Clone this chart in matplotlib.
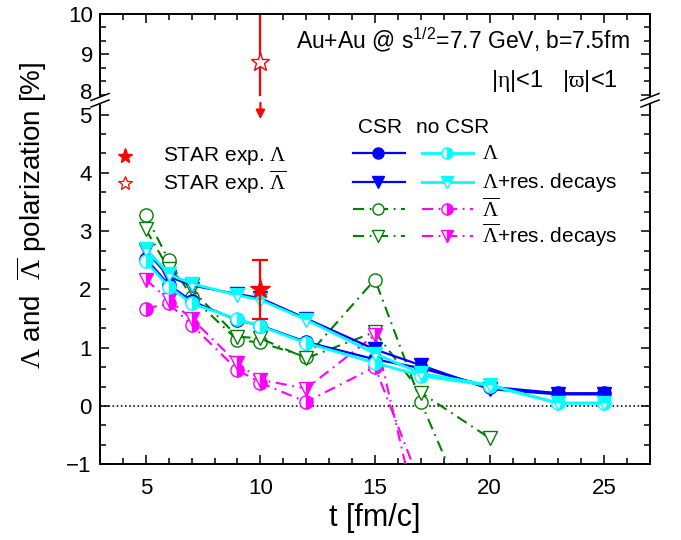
import matplotlib
matplotlib.use('Agg')
import matplotlib.pyplot as plt
from matplotlib.lines import Line2D
from matplotlib.patches import Polygon
from matplotlib.ticker import MultipleLocator, FixedLocator, FixedFormatter

plt.rcParams['font.family'] = ['Liberation Sans', 'DejaVu Sans']
plt.rcParams['mathtext.fontset'] = 'custom'
plt.rcParams['mathtext.rm'] = 'Liberation Serif'
plt.rcParams['mathtext.it'] = 'Liberation Serif:italic'
plt.rcParams['mathtext.sf'] = 'Liberation Sans'
plt.rcParams['lines.scale_dashes'] = False

# ---------------- data ----------------
t = [5, 6, 7, 9, 10, 12, 15, 17, 20, 23, 25]
lam_csr = [2.53, 2.08, 1.80, 1.47, 1.38, 1.10, 0.80, 0.65, 0.33, 0.22, 0.22]
lam_nocsr = [2.48, 2.05, 1.76, 1.49, 1.37, 1.08, 0.74, 0.52, 0.35, 0.05, 0.05]
lamres_csr = [2.67, 2.22, 2.07, 1.92, 1.85, 1.50, 0.97, 0.70, 0.29, 0.20, 0.20]
lamres_nocsr = [2.70, 2.26, 2.10, 1.90, 1.82, 1.48, 0.90, 0.56, 0.36, 0.05, 0.05]

t_bar_csr = [5, 6, 7, 9, 10, 12, 15, 17, 20]
alam_csr = [3.27, 2.50, 1.87, 1.13, 1.09, 0.84, 2.17, 0.07, -2.67]
alamres_csr = [3.03, 2.35, 2.00, 1.19, 1.16, 0.82, 1.27, 0.23, -0.55]
t_bar_nocsr = [5, 6, 7, 9, 10, 12, 15, 17]
alam_nocsr = [1.67, 1.76, 1.39, 0.62, 0.40, 0.07, 0.67, -1.36]
alamres_nocsr = [2.17, 1.82, 1.50, 0.73, 0.45, 0.30, 1.22, -2.12]

star_t = [10]
star_lam = [2.0]
star_lam_err = [0.5]
star_alam = [8.81]

top_ticks = [8, 9, 10]
top_ticklabels = ['', '9', '10']

# ---------------- layout ----------------
W, H = 681, 540
fig = plt.figure(figsize=(W / 100, H / 100), dpi=100)


def fx(px):
    return px / W


def fy(py):
    return 1 - py / H


L, R = 100, 650
ytop, ybrk, ybot = 13.5, 100, 464.3
axT = fig.add_axes([fx(L), fy(ybrk), fx(R) - fx(L), fy(ytop) - fy(ybrk)])
axB = fig.add_axes([fx(L), fy(ybot), fx(R) - fx(L), fy(ybrk) - fy(ybot)])

blue = '#0000FF'
cyan = '#00FFFF'
green = '#008000'
mag = '#FF00FF'
red = '#FF0000'
dd = (0, (8, 4, 1.3, 4))
TFS = 16

for ax in (axT, axB):
    ax.set_xlim(3, 27)
    ax.xaxis.set_major_locator(MultipleLocator(5))
    ax.xaxis.set_minor_locator(MultipleLocator(1))
    for s in ax.spines.values():
        s.set_linewidth(1.4)
    ax.tick_params(which='both', direction='in', width=1.1, labelsize=TFS)
    ax.tick_params(which='major', length=6.5)
    ax.tick_params(which='minor', length=4)

axT.set_ylim(7.865, 10)
axT.yaxis.set_major_locator(FixedLocator(top_ticks))
axT.yaxis.set_major_formatter(FixedFormatter(top_ticklabels))
axT.yaxis.set_minor_locator(MultipleLocator(1 / 3))
axT.spines['bottom'].set_visible(False)
axT.tick_params(which='both', top=True, bottom=False, right=True, left=True,
                labelbottom=False, labelleft=True)
axT.tick_params(axis='y', pad=5)
# label "8" sits just above the axis break
fig.text(fx(92), fy(93), str(top_ticks[0]), fontsize=TFS, ha='right', va='center')

axB.set_ylim(-1, 5.25)
axB.yaxis.set_major_locator(MultipleLocator(1))
axB.yaxis.set_minor_locator(MultipleLocator(1 / 3))
axB.spines['top'].set_visible(False)
axB.tick_params(which='both', top=False, bottom=True, right=True, left=True)
axB.tick_params(axis='y', pad=6)
axB.tick_params(axis='x', pad=10)

# zero line
axB.axhline(0, color='k', lw=1.1, ls=(0, (1.2, 1.8)), zorder=1)

# ---------------- curves ----------------
axB.plot(t_bar_csr, alam_csr, color=green, lw=1.5, ls=dd, marker='o', ms=9.5,
         mfc='white', mec=green, mew=1.0, zorder=3)
axB.plot(t_bar_csr, alamres_csr, color=green, lw=1.5, ls=dd, marker='v', ms=10,
         mfc='white', mec=green, mew=1.0, zorder=3)
axB.plot(t_bar_nocsr, alam_nocsr, color=mag, lw=1.5, ls=dd, marker='o', ms=9.5,
         mfc=mag, mec=mag, fillstyle='right', markerfacecoloralt='white', mew=1.0, zorder=4)
axB.plot(t_bar_nocsr, alamres_nocsr, color=mag, lw=1.5, ls=dd, marker='v', ms=10,
         mfc=mag, mec=mag, fillstyle='right', markerfacecoloralt='white', mew=1.0, zorder=4)
axB.plot(t, lam_csr, color=blue, lw=1.6, marker='o', ms=9.5, mfc=blue, mec=blue, zorder=5)
axB.plot(t, lamres_csr, color=blue, lw=1.6, marker='v', ms=10, mfc=blue, mec=blue, zorder=5)
axB.plot(t, lam_nocsr, color=cyan, lw=2.0, marker='o', ms=9.5, mfc=cyan, mec=cyan,
         fillstyle='right', markerfacecoloralt='white', mew=1.0, zorder=6)
axB.plot(t, lamres_nocsr, color=cyan, lw=2.0, marker='v', ms=10, mfc=cyan, mec=cyan,
         fillstyle='top', markerfacecoloralt='white', mew=1.0, zorder=6)

# STAR data
axB.errorbar(star_t, star_lam, yerr=star_lam_err, fmt='*', color=red, ms=15,
             elinewidth=1.6, capsize=6, capthick=1.6, zorder=8)
axT.plot([star_t[0], star_t[0]], [8.0, 10.5], color=red, lw=1.6, zorder=2, clip_on=True)
axT.plot(star_t, star_alam, marker='*', ms=14, mfc='white', mec=red, mew=1.0,
         ls='none', zorder=3)
axB.annotate('', xy=(star_t[0], 4.92), xytext=(star_t[0], 5.20),
             arrowprops=dict(arrowstyle='-|>', color=red, lw=1.6, mutation_scale=13,
                             shrinkA=0, shrinkB=0), annotation_clip=False, zorder=8)

# ---------------- legend ----------------
axB.plot([4.10], [4.29], marker='*', ms=11, color=red, ls='none', clip_on=False)
axB.plot([4.10], [3.83], marker='*', ms=10, mfc='white', mec=red, mew=0.9,
         ls='none', clip_on=False)
axB.text(5.76, 4.29, r'STAR exp. $\mathrm{\Lambda}$', fontsize=15, va='center', ha='left')
axB.text(5.76, 3.83, r'STAR exp. $\overline{\mathrm{\Lambda}}$', fontsize=15,
         va='center', ha='left')

axB.text(15.24, 4.77, 'CSR', fontsize=15, ha='center', va='center')
axB.text(18.38, 4.77, 'no CSR', fontsize=15, ha='center', va='center')

rows = [4.34, 3.84, 3.38, 2.92]
lx0, lx1, lxm = 14.02, 16.29, 15.15
rx0, rx1, rxm = 17.03, 19.26, 18.12
leg_specs = [
    (dict(color=blue, lw=1.6, ls='-'), dict(marker='o', ms=8, mfc=blue, mec=blue),
     dict(color=cyan, lw=2.0, ls='-'),
     dict(marker='o', ms=8, mfc=cyan, mec=cyan, fillstyle='right', markerfacecoloralt='white'),
     r'$\mathrm{\Lambda}$'),
    (dict(color=blue, lw=1.6, ls='-'), dict(marker='v', ms=8.5, mfc=blue, mec=blue),
     dict(color=cyan, lw=2.0, ls='-'),
     dict(marker='v', ms=8.5, mfc=cyan, mec=cyan, fillstyle='top', markerfacecoloralt='white'),
     r'$\mathrm{\Lambda}$+res. decays'),
    (dict(color=green, lw=1.5, ls=dd), dict(marker='o', ms=8, mfc='white', mec=green, mew=1.0),
     dict(color=mag, lw=1.5, ls=dd),
     dict(marker='o', ms=8, mfc=mag, mec=mag, fillstyle='right', markerfacecoloralt='white'),
     r'$\overline{\mathrm{\Lambda}}$'),
    (dict(color=green, lw=1.5, ls=dd), dict(marker='v', ms=8.5, mfc='white', mec=green, mew=1.0),
     dict(color=mag, lw=1.5, ls=dd),
     dict(marker='v', ms=8.5, mfc=mag, mec=mag, fillstyle='right', markerfacecoloralt='white'),
     r'$\overline{\mathrm{\Lambda}}$+res. decays'),
]
for y, (l1, m1, l2, m2, lab) in zip(rows, leg_specs):
    axB.plot([lx0, lx1], [y, y], clip_on=False, **l1)
    axB.plot([lxm], [y], ls='none', clip_on=False, **m1)
    axB.plot([rx0, rx1], [y, y], clip_on=False, **l2)
    axB.plot([rxm], [y], ls='none', clip_on=False, **m2)
    axB.text(19.69, y, lab, fontsize=15, ha='left', va='center')

# ---------------- annotations ----------------
fig.text(fx(630), fy(40), r'Au+Au @ $\mathsf{s^{1/2}}$=7.7 GeV, b=7.5fm', fontsize=16.5,
         ha='right', va='center')
fig.text(fx(618), fy(81), r'|$\mathrm{\eta}$|<1   |$\mathrm{\varpi}$|<1', fontsize=17,
         ha='right', va='center')

fig.text(fx(32), fy(215), r'$\mathrm{\Lambda}$ and  $\overline{\mathrm{\Lambda}}$ polarization [%]',
         fontsize=20, rotation=90, ha='center', va='center')
fig.text(fx(375), fy(518), 't [fm/c]', fontsize=22, ha='center', va='center')

# ---------------- axis break marks ----------------
for xs in (L, R):
    p1 = [(xs - 9, 100.5), (xs + 9, 93.5)]
    p2 = [(xs - 9, 107), (xs + 9, 100)]
    poly = Polygon([(fx(p1[0][0]), fy(p1[0][1])), (fx(p1[1][0]), fy(p1[1][1])),
                    (fx(p2[1][0]), fy(p2[1][1])), (fx(p2[0][0]), fy(p2[0][1]))],
                   closed=True, transform=fig.transFigure, facecolor='white',
                   edgecolor='none', zorder=10)
    fig.patches.append(poly)
    for p in (p1, p2):
        fig.lines.append(Line2D([fx(p[0][0]), fx(p[1][0])], [fy(p[0][1]), fy(p[1][1])],
                                transform=fig.transFigure, color='k', lw=1.1, zorder=11))

fig.savefig('out.png', dpi=100)
